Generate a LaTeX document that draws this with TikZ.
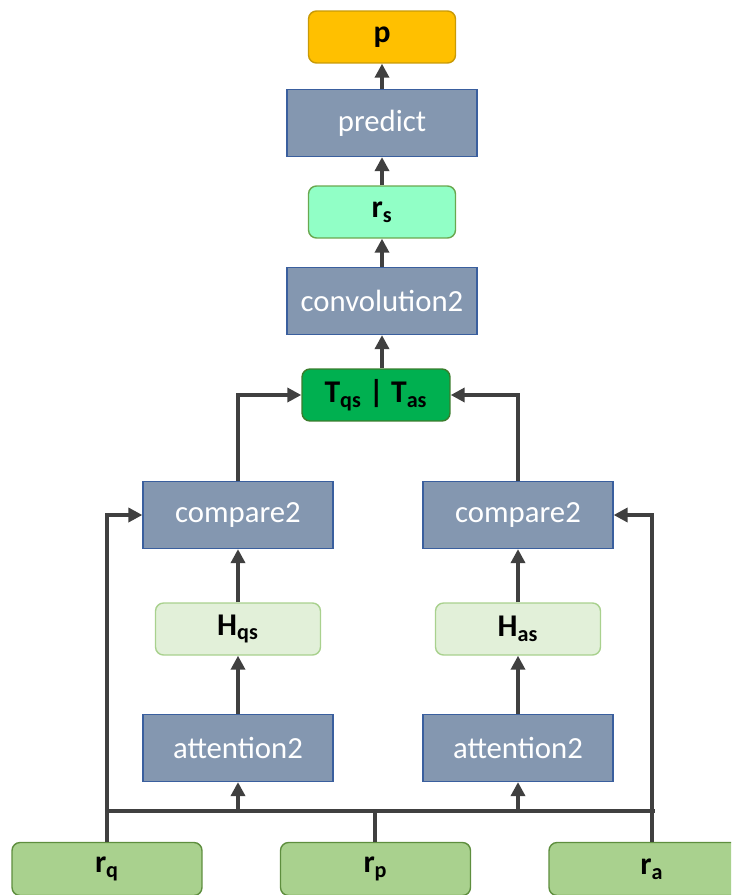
\documentclass[tikz,border=0pt]{standalone}
\usepackage{fontspec}
\setmainfont{Carlito}
\usetikzlibrary{arrows.meta}
\definecolor{bluefill}{HTML}{8497B0}
\definecolor{blueline}{HTML}{3A5F9E}
\definecolor{greenfill}{HTML}{A9D18E}
\definecolor{greenline}{HTML}{5E8E3E}
\definecolor{lightfill}{HTML}{E2F0D9}
\definecolor{lightline}{HTML}{A9D18E}
\definecolor{tfill}{HTML}{00B050}
\definecolor{tline}{HTML}{3A7D2C}
\definecolor{mintfill}{HTML}{91FFC6}
\definecolor{mintline}{HTML}{6AA84F}
\definecolor{pfill}{HTML}{FFC000}
\definecolor{pline}{HTML}{C99A06}
\definecolor{arr}{HTML}{404040}
\tikzset{
  opbox/.style={draw=blueline, line width=0.7pt, fill=bluefill, text=white,
    minimum width=3.8cm, minimum height=1.34cm, inner sep=0pt, font=\fontsize{17.5}{20}\selectfont},
  varbox/.style={rounded corners=0.16cm, line width=0.8pt, inner sep=0pt, text=black,
    minimum height=1.04cm, font=\fontsize{18}{21}\selectfont\bfseries},
  conn/.style={draw=arr, line width=2.4pt, -{Triangle[length=0.28cm,width=0.28cm]}},
  line/.style={draw=arr, line width=2.4pt},
}
\begin{document}
\begin{tikzpicture}[x=0.02cm,y=-0.02cm]
\useasboundingbox (0,0) rectangle (731,895);
\clip (0,0) rectangle (731,895);
% nodes
\node[varbox, draw=pline, fill=pfill, minimum width=2.94cm] (p) at (382,37) {p};
\node[opbox] (predict) at (382,123) {predict};
\node[varbox, draw=mintline, fill=mintfill, minimum width=2.94cm] (rs) at (382,212) {r\textsubscript{s}};
\node[opbox] (conv) at (382,301) {convolution2};
\node[varbox, draw=tline, fill=tfill, minimum width=2.96cm] (T) at (376,395) {T\textsubscript{qs} | T\textsubscript{as}};
\node[opbox] (cmpL) at (238,515) {compare2};
\node[opbox] (cmpR) at (518,515) {compare2};
\node[varbox, draw=lightline, fill=lightfill, minimum width=3.3cm] (Hqs) at (238,629) {H\textsubscript{qs}};
\node[varbox, draw=lightline, fill=lightfill, minimum width=3.3cm] (Has) at (518,629) {H\textsubscript{as}};
\node[opbox] (attL) at (238,748) {attention2};
\node[opbox] (attR) at (518,748) {attention2};
\node[varbox, draw=greenline, fill=greenfill, minimum width=3.8cm, minimum height=1.06cm] (rq) at (107,869) {r\textsubscript{q}};
\node[varbox, draw=greenline, fill=greenfill, minimum width=3.8cm, minimum height=1.06cm] (rp) at (375.5,869) {r\textsubscript{p}};
\node[varbox, draw=greenline, fill=greenfill, minimum width=4.12cm, minimum height=1.06cm] (ra) at (652,869) {r\textsubscript{a}};
% bus
\coordinate (busL) at (107,811);
\coordinate (busR) at (653,811);
\coordinate (busP) at (375,811);
\coordinate (busA) at (238,811);
\coordinate (busB) at (518,811);
\draw[line] ([xshift=-1.2pt]busL) -- ([xshift=1.2pt]busR);
\draw[line] (rp.north -| busP) -- (busP);
% vertical chains
\draw[conn] (busA) -- (attL.south);
\draw[conn] (busB) -- (attR.south);
\draw[conn] (attL) -- (Hqs);
\draw[conn] (attR) -- (Has);
\draw[conn] (Hqs) -- (cmpL);
\draw[conn] (Has) -- (cmpR);
\draw[conn] (conv) -- (rs);
\draw[conn] (rs) -- (predict);
\draw[conn] (predict) -- (p);
\draw[conn] (T.north -| conv.south) -- (conv.south);
% side inputs
\draw[conn] (rq.north) |- (cmpL.west);
\draw[conn] (ra.north) |- (cmpR.east);
% compare to T
\draw[conn] (cmpL.north) |- (T.west);
\draw[conn] (cmpR.north) |- (T.east);
\end{tikzpicture}
\end{document}
